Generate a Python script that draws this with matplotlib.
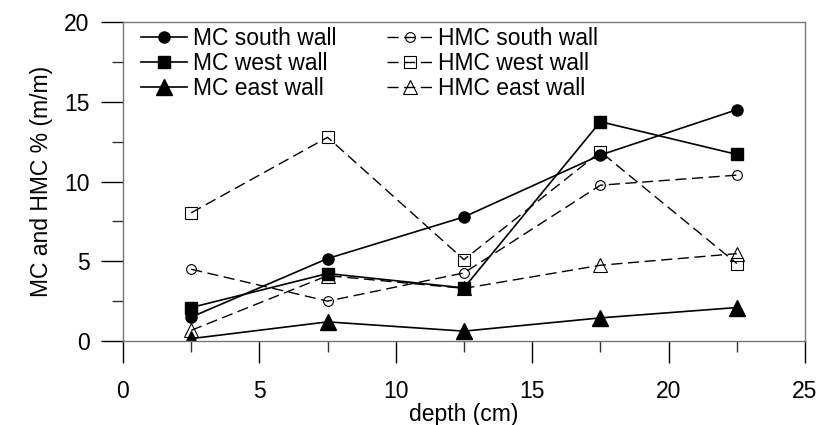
import matplotlib
matplotlib.use("Agg")
import matplotlib.pyplot as plt
from matplotlib.ticker import MultipleLocator

plt.rcParams['font.family'] = ['Liberation Sans', 'DejaVu Sans']

depth = [2.5, 7.5, 12.5, 17.5, 22.5]

mc_south = [1.5, 5.17, 7.78, 11.66, 14.5]
mc_west = [2.1, 4.23, 3.33, 13.75, 11.7]
mc_east = [0.15, 1.2, 0.62, 1.45, 2.1]

hmc_south = [4.5, 2.5, 4.27, 9.77, 10.4]
hmc_west = [8.04, 12.77, 5.1, 11.87, 4.86]
hmc_east = [0.67, 4.1, 3.3, 4.75, 5.48]

fs = 16.5

fig = plt.figure(figsize=(8.2, 4.25), dpi=100)
ax = fig.add_axes([0.15, 0.1976, 0.8317, 0.7506])

dash = (8, 4)
# humidity-based series first so the filled markers sit on top
h1, = ax.plot(depth, hmc_south, ls='--', dashes=dash, color='black', lw=1,
              marker='o', ms=7, mfc='none', mec='black', mew=0.8)
h2, = ax.plot(depth, hmc_west, ls='--', dashes=dash, color='black', lw=1,
              marker='s', ms=8, mfc='none', mec='black', mew=0.8)
h3, = ax.plot(depth, hmc_east, ls='--', dashes=dash, color='black', lw=1,
              marker='^', ms=10, mfc='none', mec='black', mew=0.8)

m1, = ax.plot(depth, mc_south, ls='-', color='black', lw=1.2,
              marker='o', ms=8)
m2, = ax.plot(depth, mc_west, ls='-', color='black', lw=1.2,
              marker='s', ms=8)
m3, = ax.plot(depth, mc_east, ls='-', color='black', lw=1.2,
              marker='^', ms=11)

ax.set_xlim(0, 25)
ax.set_ylim(0, 20)
ax.xaxis.set_major_locator(MultipleLocator(5))
ax.xaxis.set_minor_locator(MultipleLocator(2.5))
ax.yaxis.set_major_locator(MultipleLocator(5))
ax.yaxis.set_minor_locator(MultipleLocator(2.5))

ax.tick_params(which='major', direction='out', length=16, width=1, labelsize=fs, color='black')
ax.tick_params(which='minor', direction='out', length=8, width=1, color='#333333')
ax.tick_params(axis='x', which='major', pad=12)
ax.tick_params(axis='y', which='major', pad=8)
for s in ax.spines.values():
    s.set_color('#777777')
    s.set_linewidth(1)

ax.set_xlabel('depth (cm)', fontsize=fs, labelpad=0)
ax.set_ylabel('MC and HMC % (m/m)', fontsize=fs, labelpad=8)

ax.legend([m1, m2, m3, h1, h2, h3],
          ['MC south wall', 'MC west wall', 'MC east wall',
           'HMC south wall', 'HMC west wall', 'HMC east wall'],
          ncol=2, loc='upper left', bbox_to_anchor=(0.027, 0.985),
          frameon=False, fontsize=fs, borderaxespad=0, borderpad=0,
          handlelength=2.0, handletextpad=0.25, columnspacing=2.2,
          labelspacing=0.1)

fig.savefig('out.png', dpi=100)
